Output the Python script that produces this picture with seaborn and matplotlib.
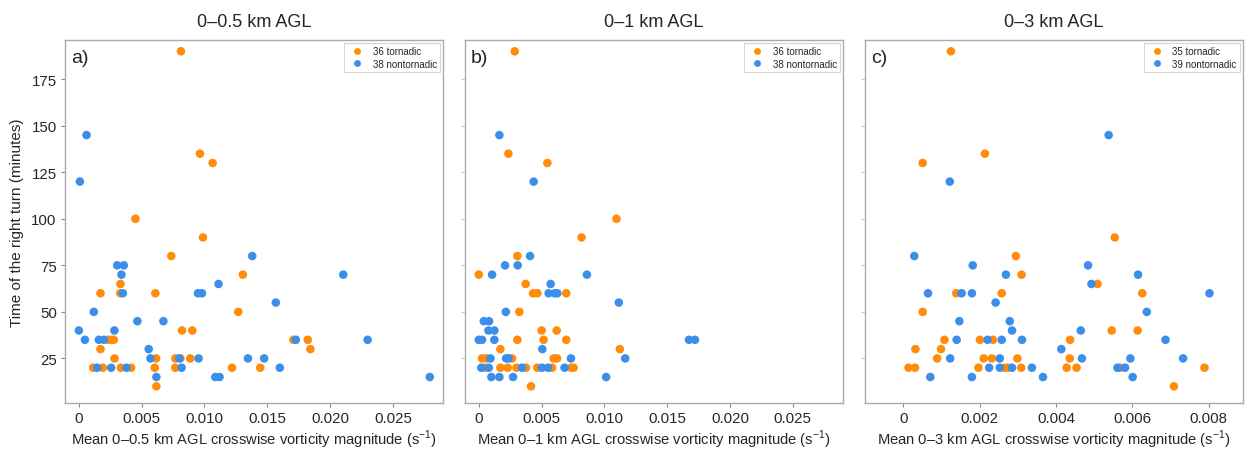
import pandas as pd
import matplotlib.pyplot as plt
import seaborn as sns
from matplotlib.ticker import FuncFormatter

# 0-0.5 km AGL
a_tor_x = [0.00813, 0.00964, 0.01065, 0.0045, 0.00988, 0.00736, 0.01306, 0.00331,
           0.00172, 0.0033, 0.00609, 0.01269, 0.00821, 0.00903,
           0.00233, 0.0026, 0.00278, 0.01708, 0.01822, 0.00172, 0.01843,
           0.00284, 0.00615, 0.00768, 0.00808, 0.00887,
           0.00114, 0.00191, 0.00334, 0.00416, 0.00604, 0.00768, 0.01219, 0.01444, 0.00617]
a_tor_y = [190, 135, 130, 100, 90, 80, 70, 65,
           60, 60, 60, 50, 40, 40,
           35, 35, 35, 35, 35, 30, 30,
           25, 25, 25, 25, 25,
           20, 20, 20, 20, 20, 20, 20, 20, 10]
a_non_x = [0.00061, 0.00008, 0.0138, 0.00305, 0.00358, 0.00339, 0.02105, 0.01112,
           0.0035, 0.00948, 0.0098, 0.01568, 0.00119, 0.00466, 0.00673, 0.0, 0.00283,
           0.00048, 0.00159, 0.00199, 0.01727, 0.02299, 0.00556,
           0.0057, 0.008, 0.00953, 0.01346, 0.01475,
           0.00146, 0.00257, 0.00379, 0.00818, 0.016,
           0.00617, 0.01086, 0.0112, 0.02794]
a_non_y = [145, 120, 80, 75, 75, 70, 70, 65,
           60, 60, 60, 55, 50, 45, 45, 40, 40,
           35, 35, 35, 35, 35, 30,
           25, 25, 25, 25, 25,
           20, 20, 20, 20, 20,
           15, 15, 15, 15]

# 0-1 km AGL
b_tor_x = [0.00286, 0.00236, 0.00546, 0.01096, 0.00818, 0.00307, 0.0, 0.00373,
           0.00432, 0.00466, 0.00696, 0.00323, 0.005, 0.0062,
           0.00307, 0.00516, 0.00696, 0.00172, 0.01123,
           0.00026, 0.0006, 0.00265, 0.00596, 0.00623,
           0.0005, 0.00172, 0.0023, 0.003, 0.00376, 0.00466, 0.00583, 0.00736, 0.00755,
           0.00416]
b_tor_y = [190, 135, 130, 100, 90, 80, 70, 65,
           60, 60, 60, 50, 40, 40,
           35, 35, 35, 30, 30,
           25, 25, 25, 25, 25,
           20, 20, 20, 20, 20, 20, 20, 20, 20,
           10]
b_non_x = [0.00164, 0.00437, 0.00408, 0.00209, 0.0031, 0.00106, 0.00861, 0.00572,
           0.00556, 0.00604, 0.00625, 0.01115, 0.00215, 0.0004, 0.00082, 0.00077, 0.00124,
           0.0, 0.00026, 0.00124, 0.01674, 0.01721, 0.00506,
           0.00093, 0.00218, 0.00238, 0.00734, 0.01166,
           0.0002, 0.0008, 0.00344, 0.00503, 0.00551, 0.00683,
           0.001, 0.00164, 0.00273, 0.01014]
b_non_y = [145, 120, 80, 75, 75, 70, 70, 65,
           60, 60, 60, 55, 50, 45, 45, 40, 40,
           35, 35, 35, 35, 35, 30,
           25, 25, 25, 25, 25,
           20, 20, 20, 20, 20, 20,
           15, 15, 15, 15]

# 0-3 km AGL
c_tor_x = [0.00125, 0.00214, 0.00051, 0.00554, 0.00295, 0.0031, 0.00509,
           0.00139, 0.00258, 0.00626, 0.00051, 0.00546, 0.00614,
           0.00108, 0.00201, 0.00235, 0.00437, 0.00032, 0.00099,
           0.00089, 0.00211, 0.00232, 0.00299, 0.00436,
           0.00014, 0.00031, 0.00197, 0.00265, 0.00274, 0.00309, 0.00428, 0.00454, 0.00568, 0.00789,
           0.00709]
c_tor_y = [190, 135, 130, 90, 80, 70, 65,
           60, 60, 60, 50, 40, 40,
           35, 35, 35, 35, 30, 30,
           25, 25, 25, 25, 25,
           20, 20, 20, 20, 20, 20, 20, 20, 20, 20,
           10]
c_non_x = [0.00538, 0.00122, 0.00029, 0.00182, 0.00484, 0.00269, 0.00615, 0.00493,
           0.00065, 0.00153, 0.0018, 0.00802, 0.00242, 0.00638, 0.00147, 0.00279,
           0.00285, 0.00465, 0.0014, 0.00221, 0.00258, 0.00311, 0.00687, 0.00414,
           0.00123, 0.00253, 0.00468, 0.00595, 0.00733,
           0.00225, 0.00253, 0.00285, 0.00337, 0.00561, 0.00581,
           0.00071, 0.0018, 0.00366, 0.00601]
c_non_y = [145, 120, 80, 75, 75, 70, 70, 65,
           60, 60, 60, 60, 55, 50, 45, 45,
           40, 40, 35, 35, 35, 35, 35, 30,
           25, 25, 25, 25, 25,
           20, 20, 20, 20, 20, 20,
           15, 15, 15, 15]

titles = ['0–0.5 km AGL', '0–1 km AGL', '0–3 km AGL']
letters = ['a)', 'b)', 'c)']
layers = ['0–0.5', '0–1', '0–3']
tor_labels = ['36 tornadic', '36 tornadic', '35 tornadic']
non_labels = ['38 nontornadic', '38 nontornadic', '39 nontornadic']
xticks_ab = [0, 0.005, 0.010, 0.015, 0.020, 0.025]
xticks_c = [0, 0.002, 0.004, 0.006, 0.008]
yticks = [25, 50, 75, 100, 125, 150, 175]

panels = [(a_tor_x, a_tor_y, a_non_x, a_non_y),
          (b_tor_x, b_tor_y, b_non_x, b_non_y),
          (c_tor_x, c_tor_y, c_non_x, c_non_y)]

sns.set_style('white')
plt.rcParams['font.family'] = ['Liberation Sans', 'DejaVu Sans']
plt.rcParams['mathtext.fontset'] = 'custom'
plt.rcParams['mathtext.rm'] = 'Liberation Sans'

orange = '#FF8C0A'
blue = '#3B8FEB'

fig = plt.figure(figsize=(12.56, 4.52), dpi=100)
lefts = [0.0518, 0.3702, 0.6887]
xlims = [(-0.0011, 0.029), (-0.0011, 0.029), (-0.001, 0.0089)]

fmt = FuncFormatter(lambda v, p: '0' if abs(v) < 1e-12 else '%.3f' % v)

for i, (tx, ty, nx, ny) in enumerate(panels):
    ax = fig.add_axes([lefts[i], 0.106, 0.301, 0.803])
    df = pd.DataFrame({
        'x': tx + nx,
        'y': ty + ny,
        'group': [tor_labels[i]] * len(tx) + [non_labels[i]] * len(nx),
    })
    sns.scatterplot(data=df, x='x', y='y', hue='group',
                    hue_order=[tor_labels[i], non_labels[i]],
                    palette=[orange, blue], s=38, linewidth=0, ax=ax)
    ax.set_xlim(*xlims[i])
    ax.set_ylim(1, 196)
    ax.set_xticks(xticks_c if i == 2 else xticks_ab)
    ax.xaxis.set_major_formatter(fmt)
    ax.set_yticks(yticks)
    ax.tick_params(axis='both', length=3, width=0.8, color='#888888',
                   labelsize=10.8, pad=3, bottom=True, left=True)
    if i > 0:
        ax.tick_params(axis='y', labelleft=False, color='#cccccc')
        ax.set_ylabel('')
    else:
        ax.set_ylabel('Time of the right turn (minutes)', fontsize=11, labelpad=5)
    ax.set_xlabel('Mean %s km AGL crosswise vorticity magnitude (s$^{\\mathrm{-1}}$)' % layers[i],
                  fontsize=10.6, labelpad=2)
    ax.set_title(titles[i], fontsize=13, pad=10)
    ax.text(0.015, 0.975, letters[i], transform=ax.transAxes,
            fontsize=14, va='top', ha='left')
    for sp in ax.spines.values():
        sp.set_color('#aaaaaa')
        sp.set_linewidth(1.0)
    leg = ax.legend(loc='upper right', fontsize=7, frameon=True,
                    borderaxespad=0.3, handletextpad=0.6, borderpad=0.35,
                    labelspacing=0.25, markerscale=0.8, fancybox=False)
    leg.get_frame().set_edgecolor('#cccccc')
    leg.get_frame().set_linewidth(0.8)

fig.savefig('out.png', dpi=100)
